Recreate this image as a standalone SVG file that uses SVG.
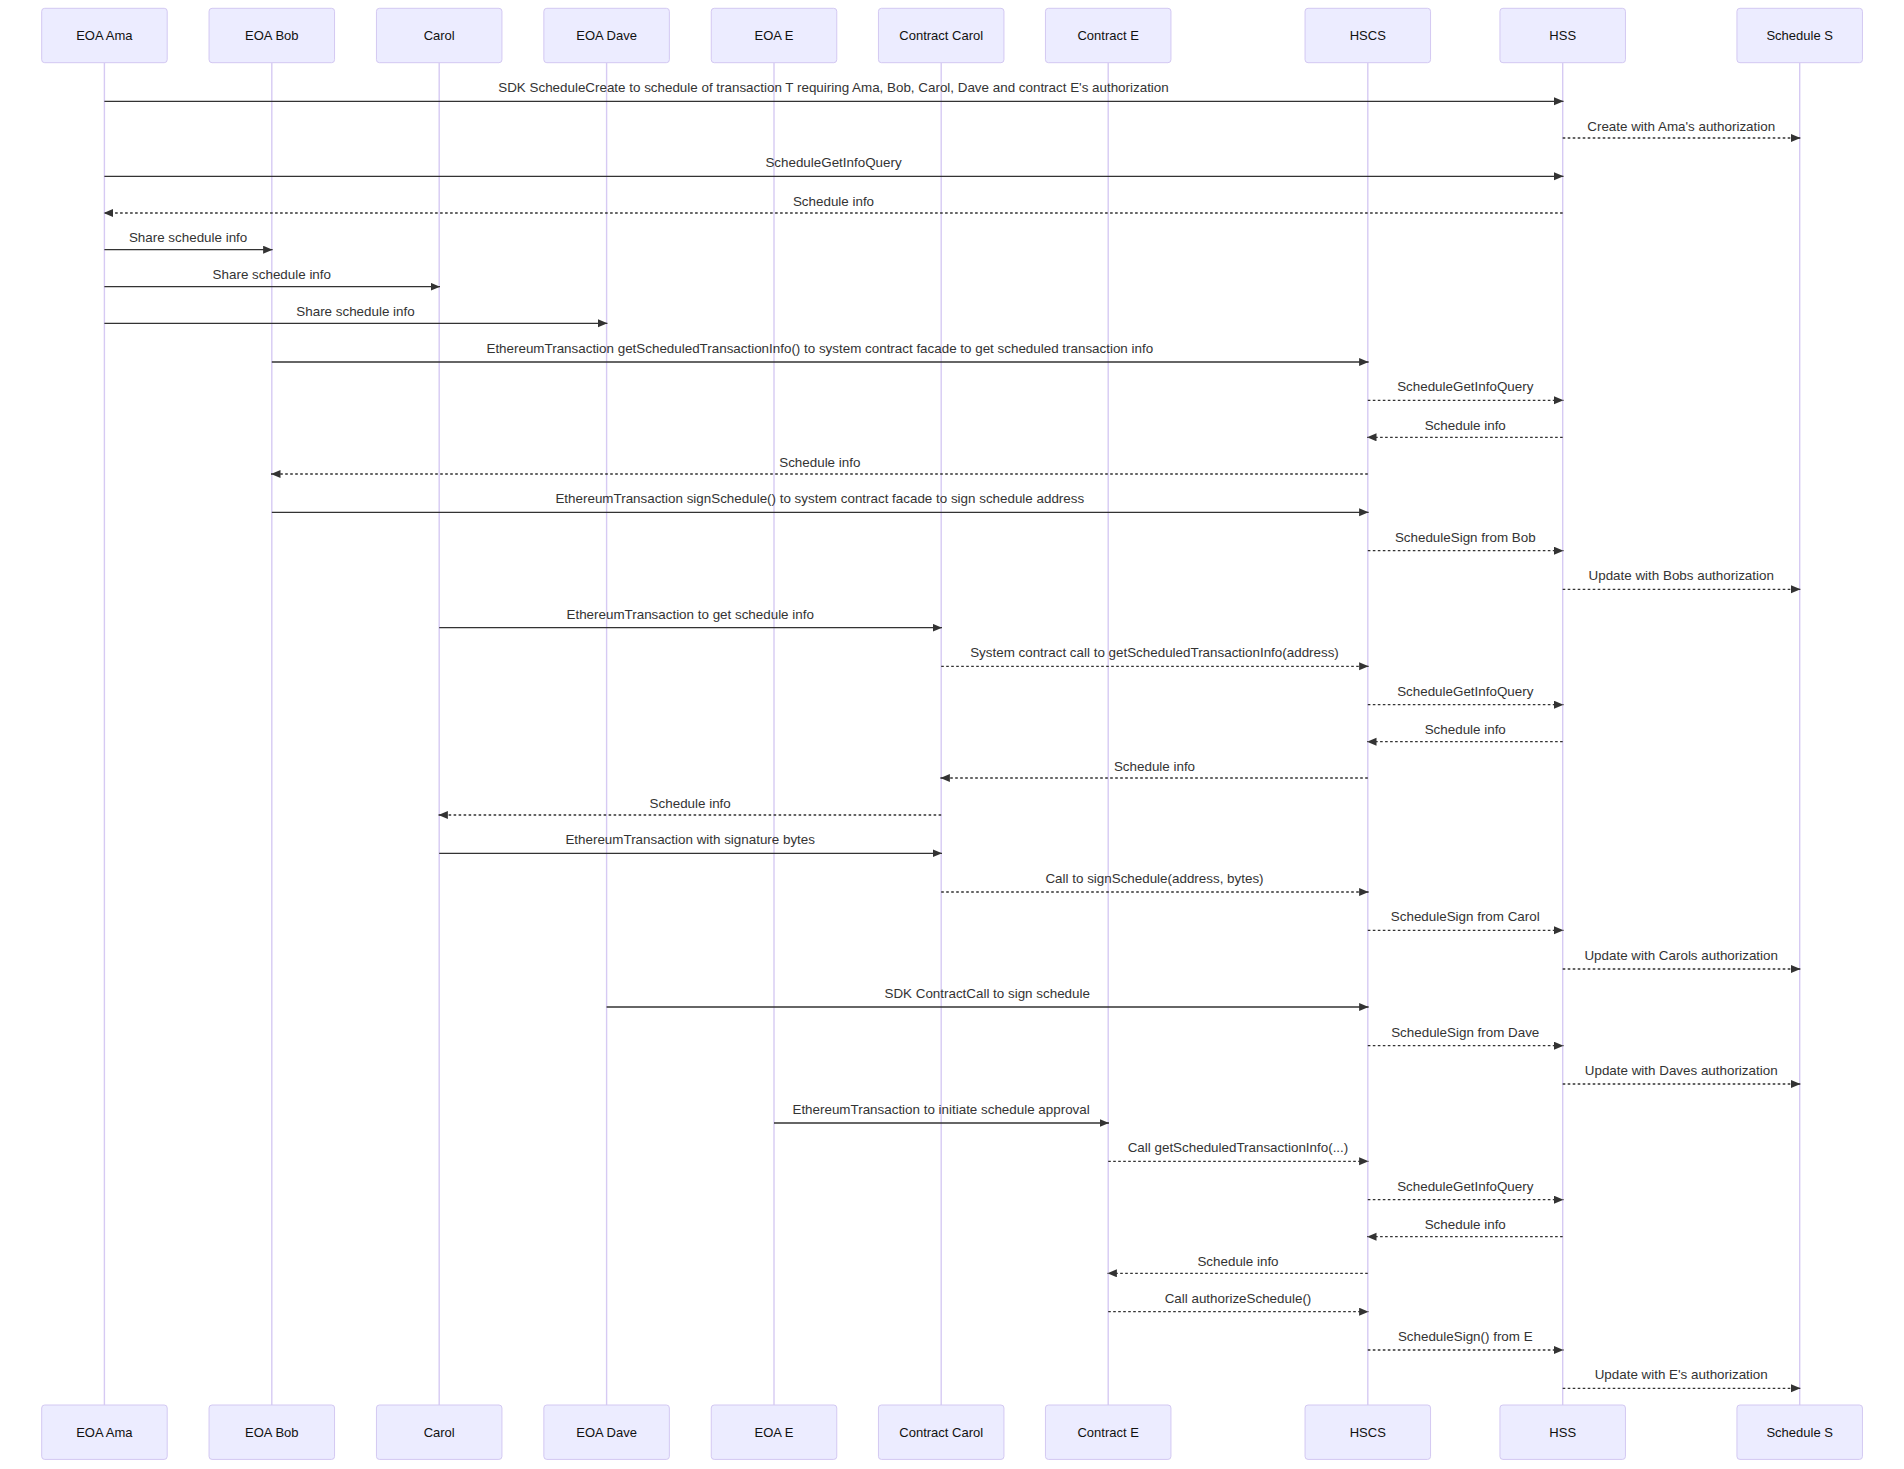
<svg xmlns="http://www.w3.org/2000/svg" width="1904" height="1469" viewBox="0 0 1904 1469">
<style>
.box{fill:#ECECFF;stroke:#D3C8F2;stroke-width:1}
.life{stroke:#D6CAF3;stroke-width:1.4}
.at{font-family:"Liberation Sans",Arial,sans-serif;font-size:13px;fill:#111;text-anchor:middle}
.msg{stroke:#333;stroke-width:1.3;fill:none;marker-end:url(#ah)}
.dot{stroke-dasharray:2.6,2.4}
.mt{font-family:"Liberation Sans",Arial,sans-serif;font-size:13.4px;fill:#333;text-anchor:middle}
</style>
<defs>
<marker id="ah" markerUnits="userSpaceOnUse" markerWidth="11" markerHeight="10" refX="9.5" refY="4" orient="auto">
<path d="M0,0 L9.5,4 L0,8 z" fill="#333"/>
</marker>
</defs>
<rect width="1904" height="1469" fill="#fff"/>
<g id="actor-ama">
<line class="life" x1="104.4" y1="62.7" x2="104.4" y2="1405"/>
<rect class="box" x="41.7" y="8.3" width="125.5" height="54.4" rx="3"/>
<text class="at" x="104.4" y="40">EOA Ama</text>
<rect class="box" x="41.7" y="1405" width="125.5" height="54.4" rx="3"/>
<text class="at" x="104.4" y="1436.7">EOA Ama</text>
</g>
<g id="actor-bob">
<line class="life" x1="271.8" y1="62.7" x2="271.8" y2="1405"/>
<rect class="box" x="209.05" y="8.3" width="125.5" height="54.4" rx="3"/>
<text class="at" x="271.8" y="40">EOA Bob</text>
<rect class="box" x="209.05" y="1405" width="125.5" height="54.4" rx="3"/>
<text class="at" x="271.8" y="1436.7">EOA Bob</text>
</g>
<g id="actor-carol">
<line class="life" x1="439.2" y1="62.7" x2="439.2" y2="1405"/>
<rect class="box" x="376.45" y="8.3" width="125.5" height="54.4" rx="3"/>
<text class="at" x="439.2" y="40">Carol</text>
<rect class="box" x="376.45" y="1405" width="125.5" height="54.4" rx="3"/>
<text class="at" x="439.2" y="1436.7">Carol</text>
</g>
<g id="actor-dave">
<line class="life" x1="606.6" y1="62.7" x2="606.6" y2="1405"/>
<rect class="box" x="543.85" y="8.3" width="125.5" height="54.4" rx="3"/>
<text class="at" x="606.6" y="40">EOA Dave</text>
<rect class="box" x="543.85" y="1405" width="125.5" height="54.4" rx="3"/>
<text class="at" x="606.6" y="1436.7">EOA Dave</text>
</g>
<g id="actor-e">
<line class="life" x1="774" y1="62.7" x2="774" y2="1405"/>
<rect class="box" x="711.25" y="8.3" width="125.5" height="54.4" rx="3"/>
<text class="at" x="774" y="40">EOA E</text>
<rect class="box" x="711.25" y="1405" width="125.5" height="54.4" rx="3"/>
<text class="at" x="774" y="1436.7">EOA E</text>
</g>
<g id="actor-contract-carol">
<line class="life" x1="941.2" y1="62.7" x2="941.2" y2="1405"/>
<rect class="box" x="878.45" y="8.3" width="125.5" height="54.4" rx="3"/>
<text class="at" x="941.2" y="40">Contract Carol</text>
<rect class="box" x="878.45" y="1405" width="125.5" height="54.4" rx="3"/>
<text class="at" x="941.2" y="1436.7">Contract Carol</text>
</g>
<g id="actor-contract-e">
<line class="life" x1="1108.2" y1="62.7" x2="1108.2" y2="1405"/>
<rect class="box" x="1045.45" y="8.3" width="125.5" height="54.4" rx="3"/>
<text class="at" x="1108.2" y="40">Contract E</text>
<rect class="box" x="1045.45" y="1405" width="125.5" height="54.4" rx="3"/>
<text class="at" x="1108.2" y="1436.7">Contract E</text>
</g>
<g id="actor-hscs">
<line class="life" x1="1367.8" y1="62.7" x2="1367.8" y2="1405"/>
<rect class="box" x="1305.05" y="8.3" width="125.5" height="54.4" rx="3"/>
<text class="at" x="1367.8" y="40">HSCS</text>
<rect class="box" x="1305.05" y="1405" width="125.5" height="54.4" rx="3"/>
<text class="at" x="1367.8" y="1436.7">HSCS</text>
</g>
<g id="actor-hss">
<line class="life" x1="1562.7" y1="62.7" x2="1562.7" y2="1405"/>
<rect class="box" x="1499.95" y="8.3" width="125.5" height="54.4" rx="3"/>
<text class="at" x="1562.7" y="40">HSS</text>
<rect class="box" x="1499.95" y="1405" width="125.5" height="54.4" rx="3"/>
<text class="at" x="1562.7" y="1436.7">HSS</text>
</g>
<g id="actor-schedule-s">
<line class="life" x1="1799.7" y1="62.7" x2="1799.7" y2="1405"/>
<rect class="box" x="1736.95" y="8.3" width="125.5" height="54.4" rx="3"/>
<text class="at" x="1799.7" y="40">Schedule S</text>
<rect class="box" x="1736.95" y="1405" width="125.5" height="54.4" rx="3"/>
<text class="at" x="1799.7" y="1436.7">Schedule S</text>
</g>
<g id="connectors">
<line class="msg" x1="104.4" y1="101.3" x2="1563.5" y2="101.3"/>
<text class="mt" x="833.5" y="92.2">SDK ScheduleCreate to schedule of transaction T requiring Ama, Bob, Carol, Dave and contract E's authorization</text>
<line class="msg dot" x1="1562.7" y1="138" x2="1800.5" y2="138"/>
<text class="mt" x="1681.2" y="130.7">Create with Ama's authorization</text>
<line class="msg" x1="104.4" y1="176.3" x2="1563.5" y2="176.3"/>
<text class="mt" x="833.5" y="167.2">ScheduleGetInfoQuery</text>
<line class="msg dot" x1="1562.7" y1="213" x2="103.6" y2="213"/>
<text class="mt" x="833.5" y="205.7">Schedule info</text>
<line class="msg" x1="104.4" y1="249.7" x2="272.6" y2="249.7"/>
<text class="mt" x="188.1" y="242.4">Share schedule info</text>
<line class="msg" x1="104.4" y1="286.7" x2="440" y2="286.7"/>
<text class="mt" x="271.8" y="279.4">Share schedule info</text>
<line class="msg" x1="104.4" y1="323.3" x2="607.4" y2="323.3"/>
<text class="mt" x="355.5" y="316">Share schedule info</text>
<line class="msg" x1="271.8" y1="362" x2="1368.6" y2="362"/>
<text class="mt" x="819.8" y="352.9">EthereumTransaction getScheduledTransactionInfo() to system contract facade to get scheduled transaction info</text>
<line class="msg dot" x1="1367.8" y1="400.3" x2="1563.5" y2="400.3"/>
<text class="mt" x="1465.25" y="391.2">ScheduleGetInfoQuery</text>
<line class="msg dot" x1="1562.7" y1="437.3" x2="1367" y2="437.3"/>
<text class="mt" x="1465.25" y="430">Schedule info</text>
<line class="msg dot" x1="1367.8" y1="474" x2="271" y2="474"/>
<text class="mt" x="819.8" y="466.7">Schedule info</text>
<line class="msg" x1="271.8" y1="512.3" x2="1368.6" y2="512.3"/>
<text class="mt" x="819.8" y="503.2">EthereumTransaction signSchedule() to system contract facade to sign schedule address</text>
<line class="msg dot" x1="1367.8" y1="550.7" x2="1563.5" y2="550.7"/>
<text class="mt" x="1465.25" y="541.6">ScheduleSign from Bob</text>
<line class="msg dot" x1="1562.7" y1="589.3" x2="1800.5" y2="589.3"/>
<text class="mt" x="1681.2" y="580.2">Update with Bobs authorization</text>
<line class="msg" x1="439.2" y1="627.7" x2="942" y2="627.7"/>
<text class="mt" x="690.2" y="618.6">EthereumTransaction to get schedule info</text>
<line class="msg dot" x1="941.2" y1="666.3" x2="1368.6" y2="666.3"/>
<text class="mt" x="1154.5" y="657.2">System contract call to getScheduledTransactionInfo(address)</text>
<line class="msg dot" x1="1367.8" y1="704.7" x2="1563.5" y2="704.7"/>
<text class="mt" x="1465.25" y="695.6">ScheduleGetInfoQuery</text>
<line class="msg dot" x1="1562.7" y1="741.7" x2="1367" y2="741.7"/>
<text class="mt" x="1465.25" y="734.4">Schedule info</text>
<line class="msg dot" x1="1367.8" y1="778" x2="940.4" y2="778"/>
<text class="mt" x="1154.5" y="770.7">Schedule info</text>
<line class="msg dot" x1="941.2" y1="815" x2="438.4" y2="815"/>
<text class="mt" x="690.2" y="807.7">Schedule info</text>
<line class="msg" x1="439.2" y1="853.3" x2="942" y2="853.3"/>
<text class="mt" x="690.2" y="844.2">EthereumTransaction with signature bytes</text>
<line class="msg dot" x1="941.2" y1="892" x2="1368.6" y2="892"/>
<text class="mt" x="1154.5" y="882.9">Call to signSchedule(address, bytes)</text>
<line class="msg dot" x1="1367.8" y1="930.3" x2="1563.5" y2="930.3"/>
<text class="mt" x="1465.25" y="921.2">ScheduleSign from Carol</text>
<line class="msg dot" x1="1562.7" y1="969" x2="1800.5" y2="969"/>
<text class="mt" x="1681.2" y="959.9">Update with Carols authorization</text>
<line class="msg" x1="606.6" y1="1007" x2="1368.6" y2="1007"/>
<text class="mt" x="987.2" y="997.9">SDK ContractCall to sign schedule</text>
<line class="msg dot" x1="1367.8" y1="1045.7" x2="1563.5" y2="1045.7"/>
<text class="mt" x="1465.25" y="1036.6">ScheduleSign from Dave</text>
<line class="msg dot" x1="1562.7" y1="1084" x2="1800.5" y2="1084"/>
<text class="mt" x="1681.2" y="1074.9">Update with Daves authorization</text>
<line class="msg" x1="774" y1="1123" x2="1109" y2="1123"/>
<text class="mt" x="941.1" y="1113.9">EthereumTransaction to initiate schedule approval</text>
<line class="msg dot" x1="1108.2" y1="1161.3" x2="1368.6" y2="1161.3"/>
<text class="mt" x="1238" y="1152.2">Call getScheduledTransactionInfo(...)</text>
<line class="msg dot" x1="1367.8" y1="1199.7" x2="1563.5" y2="1199.7"/>
<text class="mt" x="1465.25" y="1190.6">ScheduleGetInfoQuery</text>
<line class="msg dot" x1="1562.7" y1="1236.7" x2="1367" y2="1236.7"/>
<text class="mt" x="1465.25" y="1229.4">Schedule info</text>
<line class="msg dot" x1="1367.8" y1="1273.3" x2="1107.4" y2="1273.3"/>
<text class="mt" x="1238" y="1266">Schedule info</text>
<line class="msg dot" x1="1108.2" y1="1311.7" x2="1368.6" y2="1311.7"/>
<text class="mt" x="1238" y="1302.6">Call authorizeSchedule()</text>
<line class="msg dot" x1="1367.8" y1="1350" x2="1563.5" y2="1350"/>
<text class="mt" x="1465.25" y="1340.9">ScheduleSign() from E</text>
<line class="msg dot" x1="1562.7" y1="1388.3" x2="1800.5" y2="1388.3"/>
<text class="mt" x="1681.2" y="1379.2">Update with E's authorization</text>
</g>
</svg>
